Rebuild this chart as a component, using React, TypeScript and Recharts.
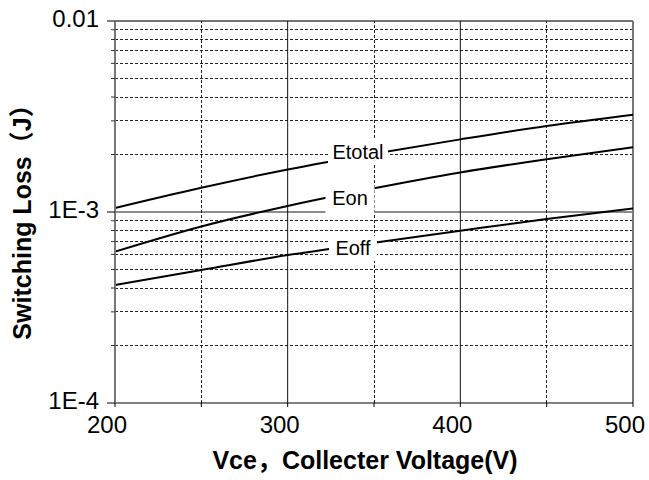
import { LineChart, Line, XAxis, YAxis, ReferenceLine, LabelList } from "recharts";

// Vce (V)
const VCE = [200, 250, 300, 350, 400, 450, 500];
// switching loss (J)
const E_TOTAL = [1.05e-3, 1.34e-3, 1.67e-3, 2.02e-3, 2.4e-3, 2.82e-3, 3.23e-3];
const E_ON = [6.2e-4, 8.4e-4, 1.075e-3, 1.33e-3, 1.61e-3, 1.89e-3, 2.18e-3];
const E_OFF = [4.15e-4, 4.97e-4, 5.95e-4, 6.9e-4, 7.98e-4, 9.2e-4, 1.045e-3];

const X_TICKS = [200, 250, 300, 350, 400, 450, 500];
const X_SOLID = [300, 400];
const X_DASHED = [250, 350, 450];
const Y_TICKS = [
  1e-4, 2e-4, 3e-4, 4e-4, 5e-4, 6e-4, 7e-4, 8e-4, 9e-4, 1e-3,
  2e-3, 3e-3, 4e-3, 5e-3, 6e-3, 7e-3, 8e-3, 9e-3, 1e-2,
];
const Y_DASHED = [
  2e-4, 3e-4, 4e-4, 5e-4, 6e-4, 7e-4, 8e-4, 9e-4,
  2e-3, 3e-3, 4e-3, 5e-3, 6e-3, 7e-3, 8e-3, 9e-3,
];
const Y_LABELS: Record<string, string> = { "0.0001": "1E-4", "0.001": "1E-3", "0.01": "0.01" };

const data = VCE.map((v, i) => ({ v, etotal: E_TOTAL[i], eon: E_ON[i], eoff: E_OFF[i] }));

const FONT = "'Liberation Sans', Arial, 'Noto Sans CJK SC', sans-serif";

function XTick({ x, y, payload }: any) {
  const major = payload.value % 100 === 0;
  return (
    <g>
      <line x1={x} x2={x} y1={y} y2={y + 4} stroke="#000" />
      {major && (
        <text x={x - 8} y={y + 30} textAnchor="middle" fontSize={24} fontFamily={FONT} fill="#000">
          {payload.value}
        </text>
      )}
    </g>
  );
}

function YTick({ x, y, payload }: any) {
  const label = Y_LABELS[String(payload.value)];
  return (
    <g>
      <line x1={x - (label ? 8 : 4)} x2={x} y1={y} y2={y} stroke={label ? "#000" : "#333"} />
      {label && (
        <text x={x - 16} y={y + 6} textAnchor="end" fontSize={24} fontFamily={FONT} fill="#000">
          {label}
        </text>
      )}
    </g>
  );
}

// text placed in a white gap of the curve
function curveLabel(text: string, dx: number, dy: number, boxW: number, boxTop: number, boxBottom: number) {
  return (props: any) => {
    if (props.index !== 3) return null;
    const cx = props.x + dx;
    const cy = props.y + dy;
    return (
      <g>
        <rect x={cx - boxW / 2} y={props.y + boxTop} width={boxW} height={boxBottom - boxTop} fill="#fff" />
        <text x={cx} y={cy + 7} textAnchor="middle" fontSize={20} fontFamily={FONT} fill="#000">
          {text}
        </text>
      </g>
    );
  };
}

export default function App() {
  return (
    <div style={{ position: "absolute", left: 0, top: 0, background: "#fff" }}>
      <LineChart width={649} height={480} data={data} margin={{ top: 21, right: 16, bottom: 0, left: 0 }}>
        <XAxis
          dataKey="v"
          type="number"
          domain={[200, 500]}
          ticks={X_TICKS}
          interval={0}
          height={77}
          tickSize={0}
          tickMargin={0}
          tickLine={false}
          axisLine={{ stroke: "#000", strokeWidth: 1 }}
          tick={<XTick />}
          label={{
            content: () => (
              <text x={365} y={469} textAnchor="middle" fontSize={25} fontWeight="bold" fontFamily={FONT} fill="#000">
                Vce，Collecter Voltage(V)
              </text>
            ),
          }}
        />
        <YAxis
          scale="log"
          domain={[1e-4, 1e-2]}
          allowDataOverflow
          ticks={Y_TICKS}
          interval={0}
          width={115}
          tickSize={0}
          tickMargin={0}
          tickLine={false}
          axisLine={{ stroke: "#777", strokeWidth: 2 }}
          tick={<YTick />}
          label={{
            content: () => (
              <text
                x={31}
                y={216}
                transform="rotate(-90 31 216)"
                textAnchor="middle"
                fontSize={25}
                fontWeight="bold"
                fontFamily={FONT}
                fill="#000"
              >
                Switching Loss（J）
              </text>
            ),
          }}
        />
        {Y_DASHED.map((y) => (
          <ReferenceLine key={y} y={y} stroke="#222" strokeDasharray="3 2" shapeRendering="crispEdges" />
        ))}
        <ReferenceLine y={1e-3} stroke="#666" strokeWidth={1.5} />
        <ReferenceLine y={1e-2} stroke="#444" strokeWidth={1.5} />
        {X_DASHED.map((x) => (
          <ReferenceLine key={x} x={x} stroke="#222" strokeDasharray="3 2" shapeRendering="crispEdges" />
        ))}
        {X_SOLID.map((x) => (
          <ReferenceLine key={x} x={x} stroke="#111" />
        ))}
        <ReferenceLine x={500} stroke="#777" strokeWidth={2} />
        <Line type="monotone" dataKey="etotal" stroke="#000" strokeWidth={2} dot={false} isAnimationActive={false}>
          <LabelList dataKey="etotal" content={curveLabel("Etotal", -16, -2, 60, -14, 11)} />
        </Line>
        <Line type="monotone" dataKey="eon" stroke="#000" strokeWidth={2} dot={false} isAnimationActive={false}>
          <LabelList dataKey="eon" content={curveLabel("Eon", -24, 10, 49, -3, 26)} />
        </Line>
        <Line type="monotone" dataKey="eoff" stroke="#000" strokeWidth={2} dot={false} isAnimationActive={false}>
          <LabelList dataKey="eoff" content={curveLabel("Eoff", -21, 5, 48, -7, 18)} />
        </Line>
      </LineChart>
    </div>
  );
}
